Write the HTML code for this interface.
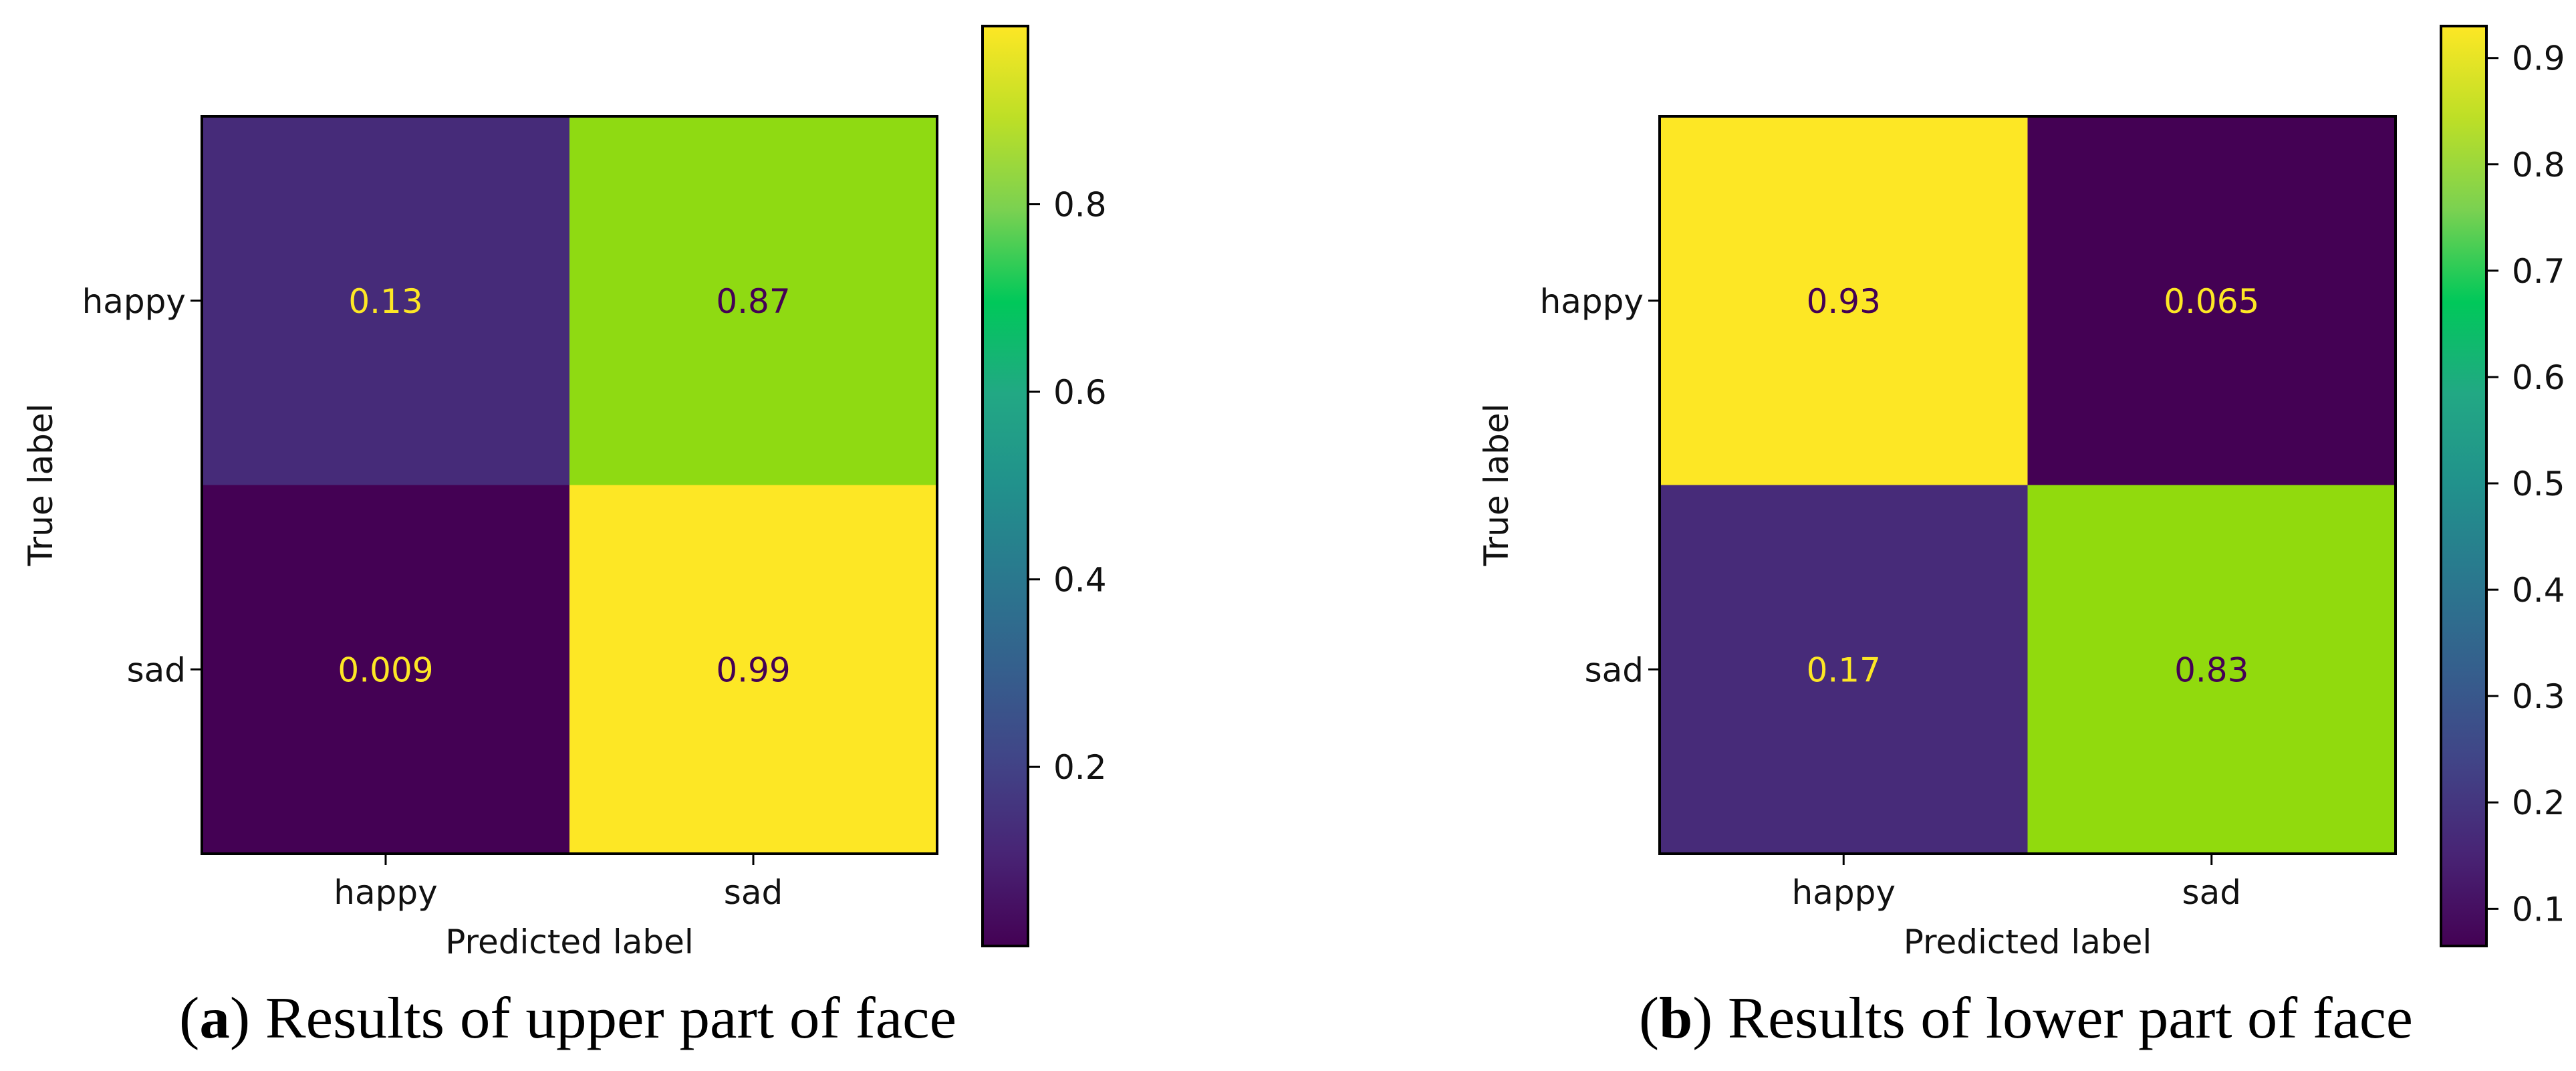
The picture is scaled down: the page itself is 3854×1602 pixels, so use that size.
<!DOCTYPE html>
<html><head><meta charset="utf-8"><style>
html,body{margin:0;padding:0;background:#fff;}
svg{display:block;}
.tk{font-family:"DejaVu Sans","Liberation Sans",sans-serif;font-size:50px;fill:#111;}
.cap{font-family:"Liberation Serif",serif;font-size:88px;fill:#000;}
</style></head><body>
<svg id="fig" width="3854" height="1602" viewBox="0 0 3854 1602" xmlns="http://www.w3.org/2000/svg">
<defs>
<linearGradient id="vir" x1="0" y1="1" x2="0" y2="0">
<stop offset="0" stop-color="#440154"/><stop offset="0.1" stop-color="#482475"/><stop offset="0.2" stop-color="#414487"/><stop offset="0.3" stop-color="#355f8d"/><stop offset="0.4" stop-color="#2a788e"/><stop offset="0.5" stop-color="#21918c"/><stop offset="0.6" stop-color="#22a884"/><stop offset="0.7" stop-color="#00c85a"/><stop offset="0.8" stop-color="#7ad151"/><stop offset="0.9" stop-color="#bddf26"/><stop offset="1" stop-color="#fde725"/>
</linearGradient>
</defs>
<g id="panelA"></g>
<g id="panelB"></g>
</svg>
<script>
const classes = ["happy", "sad"];
const valuesA = [[0.13, 0.87], [0.009, 0.99]];
const labelsA = [["0.13", "0.87"], ["0.009", "0.99"]];
const valuesB = [[0.93, 0.065], [0.17, 0.83]];
const labelsB = [["0.93", "0.065"], ["0.17", "0.83"]];
const ticksA = [0.2, 0.4, 0.6, 0.8];
const ticksB = [0.1, 0.2, 0.3, 0.4, 0.5, 0.6, 0.7, 0.8, 0.9];

const NS = "http://www.w3.org/2000/svg";
const vir = ["#440154","#482475","#414487","#355f8d","#2a788e","#21918c","#22a884","#00c85a","#7ad151","#95dc00","#fde725"];
function hex(c){return [1,3,5].map(i=>parseInt(c.substr(i,2),16));}
function viridis(t){
  t=Math.max(0,Math.min(1,t));
  const s=vir.length-1, i=Math.min(s-1,Math.floor(t*s)), f=t*s-i;
  const a=hex(vir[i]), b=hex(vir[i+1]);
  return "rgb("+a.map((v,k)=>Math.round(v+(b[k]-v)*f)).join(",")+")";
}
function el(tag, attrs, parent, text){
  const e=document.createElementNS(NS,tag);
  for(const k in attrs) e.setAttribute(k,attrs[k]);
  if(text!==undefined) e.textContent=text;
  parent.appendChild(e); return e;
}
function drawPanel(g, vals, labs, ticks, o){
  const all=vals.flat();
  const vmin=Math.min(...all), vmax=Math.max(...all);
  const n=classes.length;
  const cw=(o.x1-o.x0)/n, ch=(o.y1-o.y0)/n;
  const xc=j=>o.x0+cw*(j+0.5), yc=i=>o.y0+ch*(i+0.5);
  const norm=v=>(v-vmin)/(vmax-vmin);
  for(let i=0;i<n;i++)for(let j=0;j<n;j++){
    const r=el("rect",{x:o.x0+cw*j,y:o.y0+ch*i,width:cw,height:ch,fill:viridis(norm(vals[i][j]))},g);
    
    
    const t=el("text",{x:xc(j),y:yc(i)+18,"text-anchor":"middle",class:"tk",style:"fill:"+(norm(vals[i][j])<0.5?"#fde725":"#440154")},g,labs[i][j]);
    
    
  }
  const fr=el("rect",{x:o.x0,y:o.y0,width:o.x1-o.x0,height:o.y1-o.y0,fill:"none",stroke:"#000","stroke-width":4},g);
  
  
  classes.forEach((c,k)=>{
    el("line",{x1:o.x0-17,x2:o.x0,y1:yc(k),y2:yc(k),stroke:"#000","stroke-width":3},g);
    const yl=el("text",{x:o.x0-24,y:yc(k)+18,"text-anchor":"end",class:"tk"},g,c);
    
    
    el("line",{x1:xc(k),x2:xc(k),y1:o.y1,y2:o.y1+17,stroke:"#000","stroke-width":3},g);
    const xl=el("text",{x:xc(k),y:1352,"text-anchor":"middle",class:"tk"},g,c);
    
    
  });
  const xt=el("text",{x:(o.x0+o.x1)/2,y:1426,"text-anchor":"middle",class:"tk"},g,"Predicted label");
  
  
  const yt=el("text",{x:0,y:0,"text-anchor":"middle",class:"tk",transform:"translate("+(o.ylx+18)+",725) rotate(-90)"},g,"True label");
  
  
  const cb0=39, cb1=1415;
  const cb=el("rect",{x:o.cbx,y:cb0,width:68,height:cb1-cb0,fill:"url(#vir)",stroke:"#000","stroke-width":4},g);
  
  
  ticks.forEach(v=>{
    const y=cb1-norm(v)*(cb1-cb0);
    el("line",{x1:o.cbx+68,x2:o.cbx+86,y1:y,y2:y,stroke:"#000","stroke-width":3},g);
    const tl=el("text",{x:o.cbx+106,y:y+18,class:"tk"},g,v.toFixed(1));
    
    
  });
  const cap=el("text",{x:o.capx,y:1552,class:"cap",textLength:o.capw,lengthAdjust:"spacingAndGlyphs"},g);
  
  
  el("tspan",{},cap,"(");
  el("tspan",{"font-weight":"bold"},cap,o.letter);
  el("tspan",{},cap,") "+o.caption);
}
drawPanel(document.getElementById("panelA"), valuesA, labelsA, ticksA,
  {x0:302,x1:1402,y0:174,y1:1277,cbx:1470,ylx:60,capx:268,capw:1163,letter:"a",caption:"Results of upper part of face"});
drawPanel(document.getElementById("panelB"), valuesB, labelsB, ticksB,
  {x0:2483,x1:3584,y0:174,y1:1277,cbx:3652,ylx:2238,capx:2452,capw:1158,letter:"b",caption:"Results of lower part of face"});
</script>
</body></html>
